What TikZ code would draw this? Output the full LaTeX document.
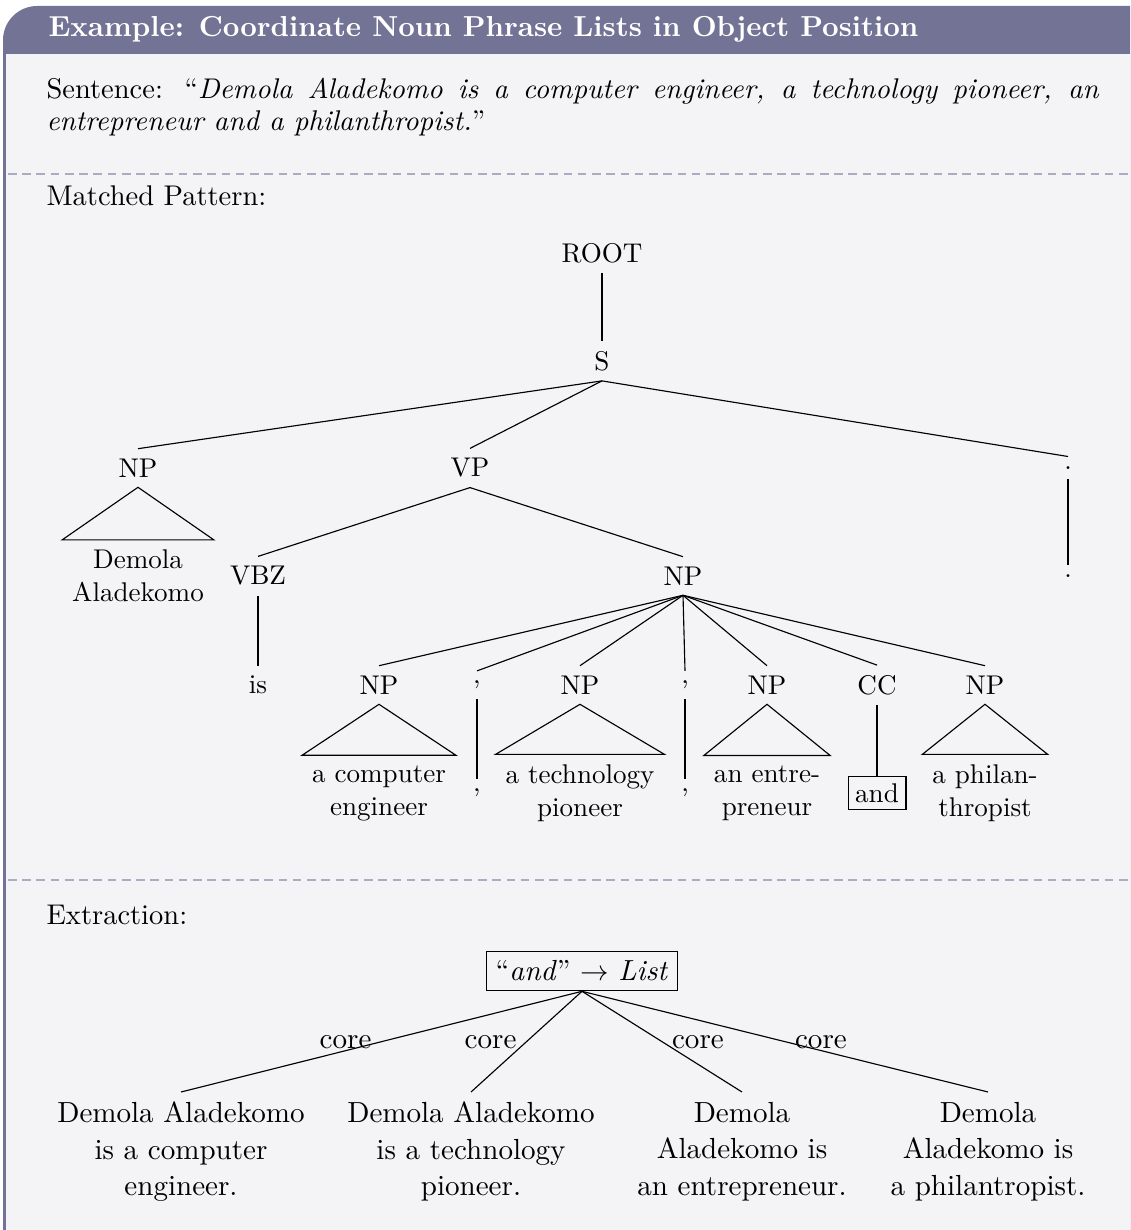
\documentclass[tikz,border=0pt]{standalone}
\usepackage{amsmath}
\usepackage{tikz}
\usetikzlibrary{positioning}
\definecolor{framecol}{HTML}{737396}
\definecolor{backcol}{HTML}{F4F4F6}
\definecolor{rulecol}{HTML}{ABABC2}

\begin{document}
\begin{tikzpicture}[
    x=0.351pt, y=-0.351pt,
    body/.style={font=\fontsize{10}{10.9}\selectfont, inner sep=0pt},
    cat/.style={font=\fontsize{9.5}{11.6}\selectfont, inner sep=3.33pt},
    leaf/.style={font=\fontsize{9.5}{11.6}\selectfont, align=center, inner sep=3.33pt},
    boxed/.style={draw, line width=0.4pt},
    result/.style={font=\fontsize{10.2}{12.8}\selectfont, align=center, anchor=north},
    edge/.style={line width=0.4pt},
    divider/.style={draw=rulecol, line width=0.5pt, dash pattern=on 3pt off 2pt},
    rel/.style={font=\fontsize{10.2}{12.8}\selectfont}
  ]

    \useasboundingbox (0,0) rectangle (1130,1230);

    % ── Frame ────────────────────────────────────────────────────────────
    \begin{scope}
      \clip (0,0) rectangle (1130,1230);
      \fill[framecol, rounded corners=12] (3,6) rectangle (1200,1300);
      \fill[backcol] (6,54) rectangle (1200,1300);
    \end{scope}
    \node[anchor=west, text=white, font=\fontsize{10.15}{12}\selectfont\bfseries, inner sep=0pt]
      (title) at (48,29) {Example: Coordinate Noun Phrase Lists in Object Position};

    % ── Sentence ─────────────────────────────────────────────────────────
    \node[body, anchor=base west, text width=369.3pt, align=justify] (sentence) at (46,99)
      {Sentence: ``\textit{Demola Aladekomo is a computer engineer, a technology pioneer, an\linebreak
       entrepreneur and a philanthropist.}''};

    % ── Divider rules ────────────────────────────────────────────────────
    \foreach \y in {174, 880}
      \draw[divider] (8,\y) -- (1130,\y);

    % ── Matched pattern: parse tree ──────────────────────────────────────
    \node[body, anchor=base west] (matched) at (46,206) {Matched Pattern:};

    \node[cat] (root) at (602,253) {ROOT};
    \node[cat] (s)    at (602,361) {S};

    \node[cat] (np_subj) at (138,468)  {NP};
    \node[cat] (vp)      at (470,468)  {VP};
    \node[cat] (stop)    at (1068,468) {.};

    \node[leaf] (np_subj_lf) at (138,576)  {Demola\\Aladekomo};
    \node[cat]  (vbz)        at (258,576)  {VBZ};
    \node[cat]  (np_obj)     at (683,576)  {NP};
    \node[cat]  (stop_lf)    at (1068,576) {.};

    \node[leaf] (vbz_lf)  at (258,685) {is};
    \node[cat]  (np_a)    at (379,685) {NP};
    \node[cat]  (comma_a) at (477,685) {,};
    \node[cat]  (np_b)    at (580,685) {NP};
    \node[cat]  (comma_b) at (685,685) {,};
    \node[cat]  (np_c)    at (767,685) {NP};
    \node[cat]  (cc)      at (877,685) {CC};
    \node[cat]  (np_d)    at (985,685) {NP};

    \node[leaf]        (np_a_lf)    at (379,793) {a computer\\engineer};
    \node[cat]         (comma_a_lf) at (477,793) {,};
    \node[leaf]        (np_b_lf)    at (580,793) {a technology\\pioneer};
    \node[cat]         (comma_b_lf) at (685,793) {,};
    \node[leaf]        (np_c_lf)    at (767,793) {an entre-\\preneur};
    \node[cat, boxed, inner sep=2.5pt] (cc_lf) at (877,793) {and};
    \node[leaf]        (np_d_lf)    at (985,793) {a philan-\\thropist};

    % ── Tree edges ───────────────────────────────────────────────────────
    \draw[edge] (root.south) -- (s.north);
    \foreach \c in {np_subj, vp, stop}
      \draw[edge] (s.south) -- (\c.north);
    \foreach \c in {vbz, np_obj}
      \draw[edge] (vp.south) -- (\c.north);
    \draw[edge] (stop.south) -- (stop_lf.north);
    \draw[edge] (vbz.south) -- (vbz_lf.north);
    \foreach \c in {np_a, comma_a, np_b, comma_b, np_c, cc, np_d}
      \draw[edge] (np_obj.south) -- (\c.north);
    \draw[edge] (comma_a.south) -- (comma_a_lf.north);
    \draw[edge] (comma_b.south) -- (comma_b_lf.north);
    \draw[edge] (cc.south) -- (cc_lf.north);

    % roofs over collapsed phrases
    \foreach \p in {np_subj, np_a, np_b, np_c, np_d}
      \draw[edge] (\p.south) -- (\p_lf.north west) -- (\p_lf.north east) -- cycle;

    % ── Extraction ───────────────────────────────────────────────────────
    \node[body, anchor=base west] (extraction) at (46,924) {Extraction:};

    \node[rel, boxed, inner sep=3.33pt] (list) at (582,971)
      {``\textit{and}'' $\rightarrow$ \textit{List}};

    \node[result] (res_a) at (181,1092) {Demola Aladekomo\\is a computer\\engineer.};
    \node[result] (res_b) at (471,1092) {Demola Aladekomo\\is a technology\\pioneer.};
    \node[result] (res_c) at (742,1092) {Demola\\Aladekomo is\\an entrepreneur.};
    \node[result] (res_d) at (988,1092) {Demola\\Aladekomo is\\a philantropist.};

    \draw[edge] (list.south) -- node[rel, midway, left]  {core} (res_a.north);
    \draw[edge] (list.south) -- node[rel, midway, left]  {core} (res_b.north);
    \draw[edge] (list.south) -- node[rel, midway, right] {core} (res_c.north);
    \draw[edge] (list.south) -- node[rel, midway, right] {core} (res_d.north);

  \end{tikzpicture}
\end{document}
